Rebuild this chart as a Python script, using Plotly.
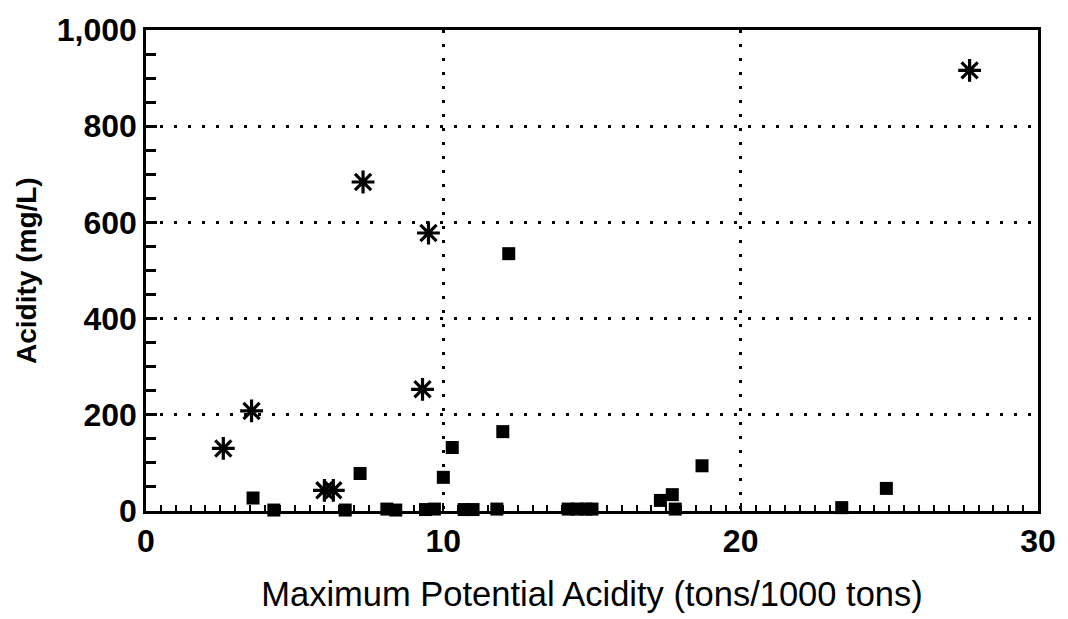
import plotly.graph_objects as go

# Series 1: filled squares
sq_x = [3.6, 4.3, 6.7, 7.2, 8.1, 8.4, 9.4, 9.7, 10.0, 10.3, 10.7, 11.0, 11.8, 12.0, 12.2,
        14.2, 14.5, 14.8, 15.0, 17.3, 17.7, 17.8, 18.7, 23.4, 24.9]
sq_y = [27, 2, 2, 78, 4, 2, 3, 4, 70, 132, 3, 3, 4, 165, 535,
        4, 4, 4, 4, 22, 34, 4, 94, 7, 47]

# Series 2: asterisks
st_x = [2.6, 3.55, 6.0, 6.3, 7.3, 9.5, 9.3, 27.7]
st_y = [130, 208, 43, 43, 684, 578, 253, 916]

fig = go.Figure()
fig.add_trace(go.Scatter(
    x=sq_x, y=sq_y, mode="markers", cliponaxis=False, showlegend=False,
    marker=dict(symbol="square", size=13, color="black", line=dict(width=0)),
))
fig.add_trace(go.Scatter(
    x=st_x, y=st_y, mode="markers", cliponaxis=False, showlegend=False,
    marker=dict(symbol="asterisk-open", size=19, color="black",
                line=dict(width=3.2, color="black")),
))

tickfont = dict(family="Liberation Sans", size=32, color="black", weight="bold")

fig.update_layout(
    width=1068, height=619,
    margin=dict(l=146, r=28, t=22, b=107),
    paper_bgcolor="white", plot_bgcolor="white",
    font=dict(family="Liberation Sans", color="black"),
    xaxis=dict(
        range=[0, 30], tickmode="linear", tick0=0, dtick=10,
        showline=True, linecolor="black", linewidth=2.5, mirror=True,
        showgrid=True, gridcolor="black", gridwidth=2.5, griddash="3px,11px",
        zeroline=False, ticks="inside", ticklen=8, tickwidth=2, tickcolor="black",
        tickfont=tickfont,
        minor=dict(ticks="inside", dtick=0.5, tick0=0, ticklen=6, tickwidth=2,
                   tickcolor="black", showgrid=False),
        title=dict(text="Maximum Potential Acidity (tons/1000 tons)",
                   font=dict(family="Liberation Sans", size=34.5, color="black"),
                   standoff=24),
    ),
    yaxis=dict(
        range=[0, 1000], tickmode="linear", tick0=0, dtick=200, tickformat=",",
        showline=True, linecolor="black", linewidth=2.5, mirror=True,
        showgrid=True, gridcolor="black", gridwidth=2.5, griddash="3px,11px",
        zeroline=False, ticks="inside", ticklen=11, tickwidth=2.5, tickcolor="black",
        tickfont=tickfont,
        minor=dict(ticks="inside", dtick=50, tick0=0, ticklen=10, tickwidth=2.5,
                   tickcolor="black", showgrid=False),
    ),
    annotations=[dict(
        text="Acidity (mg/L)", textangle=-90,
        xref="paper", yref="paper", x=-0.134, y=0.5,
        xanchor="center", yanchor="middle", showarrow=False,
        font=dict(family="Liberation Sans", size=28, color="black", weight="bold"),
    )],
)

fig.write_html("out.html")
